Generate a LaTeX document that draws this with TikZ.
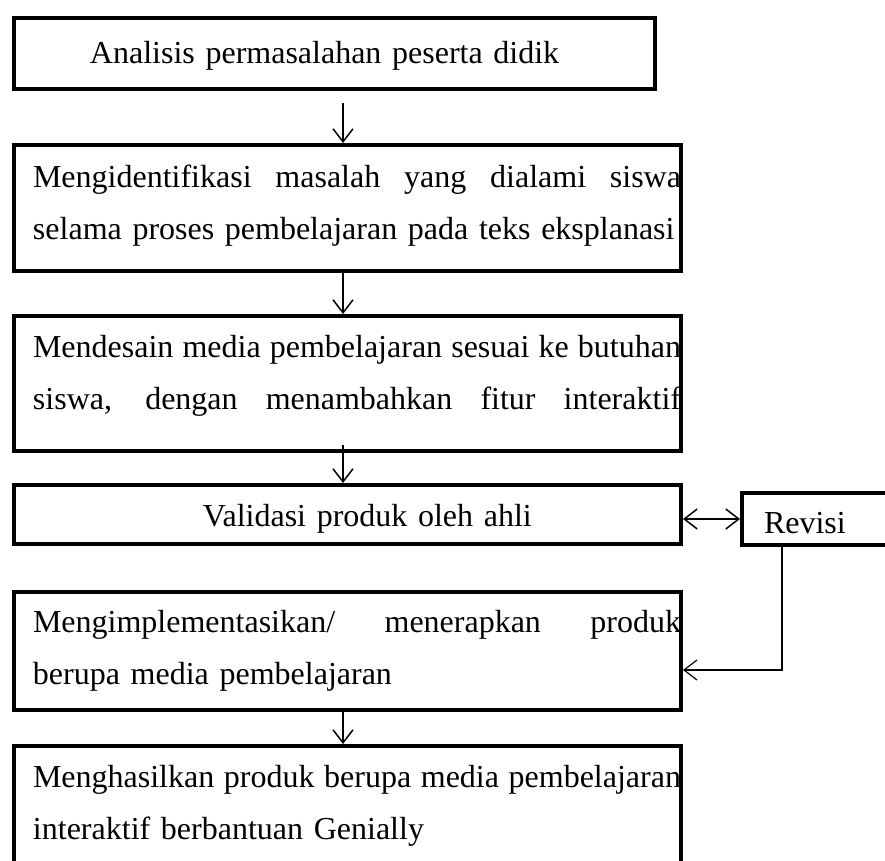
\documentclass[tikz,border=0pt]{standalone}
\usepackage{fontspec}
\setmainfont{Liberation Serif}
\usetikzlibrary{positioning,arrows.meta}

% one justified line inside a box
\newcommand{\fullline}[1]{\leavevmode\hbox to 324pt{\spaceskip=0.25em plus 1fil minus 0.05em\relax #1}}

\begin{document}
\begin{tikzpicture}[
    node distance = 20pt, auto,
    font={\fontsize{16pt}{26pt}\selectfont},
    >={Straight Barb[length=6.5pt,width=10pt]},
    textindent/.style={execute at begin node={\leftskip=#1}},
    stepbox/.style={draw,line width=2pt,rectangle,inner xsep=0pt,inner ysep=0pt,align=left,text width=333.5pt,textindent=9.5pt},
    flow/.style={->,line width=0.75pt},
]
    \useasboundingbox (0,0) rectangle (442.5pt,-430.5pt);

    % Steps
    \node[stepbox, anchor=north west, text width=320.5pt, minimum height=35.5pt, text height=13pt, textindent=38pt] (analisis) at (6pt,-8pt) {Analisis permasalahan peserta didik};
    \node[stepbox, below=26pt of analisis.south west, anchor=north west, minimum height=63pt] (identifikasi)
        {\fullline{Mengidentifikasi masalah yang dialami siswa}\\ selama proses pembelajaran pada teks eksplanasi\par\kern2pt};
    \node[stepbox, below=20.5pt of identifikasi.south west, anchor=north west, minimum height=67.5pt] (desain)
        {\fullline{Mendesain media pembelajaran sesuai ke butuhan}\\ \fullline{siswa, dengan menambahkan fitur interaktif}\par\kern8pt};
    \node[stepbox, below=15pt of desain.south west, anchor=north west, minimum height=29.5pt, text height=15pt, textindent=94.5pt] (validasi) {Validasi produk oleh ahli};
    \node[stepbox, right=28.5pt of validasi, yshift=-2.25pt, text width=110pt, minimum height=26pt, text height=15pt, text depth=0pt, textindent=11pt] (revisi) {Revisi};
    \node[stepbox, below=22pt of validasi.south west, anchor=north west, minimum height=59pt] (implementasi)
        {\fullline{Mengimplementasikan/ menerapkan produk}\\ berupa media pembelajaran};
    \node[stepbox, below=16pt of implementasi.south west, anchor=north west, minimum height=60pt] (hasil)
        {\fullline{Menghasilkan produk berupa media pembelajaran}\\ interaktif berbantuan Genially};

    % Step connections
    \draw[flow] ([xshift=4.25pt,yshift=-6pt]analisis.south) -- ([xshift=-2.25pt]identifikasi.north);
    \draw[flow] ([xshift=-2.25pt]identifikasi.south) -- ([xshift=-2.25pt]desain.north);
    \draw[flow] ([xshift=-2.25pt,yshift=4pt]desain.south) -- ([xshift=-2.25pt]validasi.north);
    \draw[flow,<->] (revisi.west -| validasi.east) -- (revisi.west);
    \draw[flow,line width=0.6pt] ([xshift=21pt]revisi.south west) |- ([yshift=-9.5pt]implementasi.east);
    \draw[flow] ([xshift=-2.25pt]implementasi.south) -- ([xshift=-2.25pt]hasil.north);

\end{tikzpicture}
\end{document}
